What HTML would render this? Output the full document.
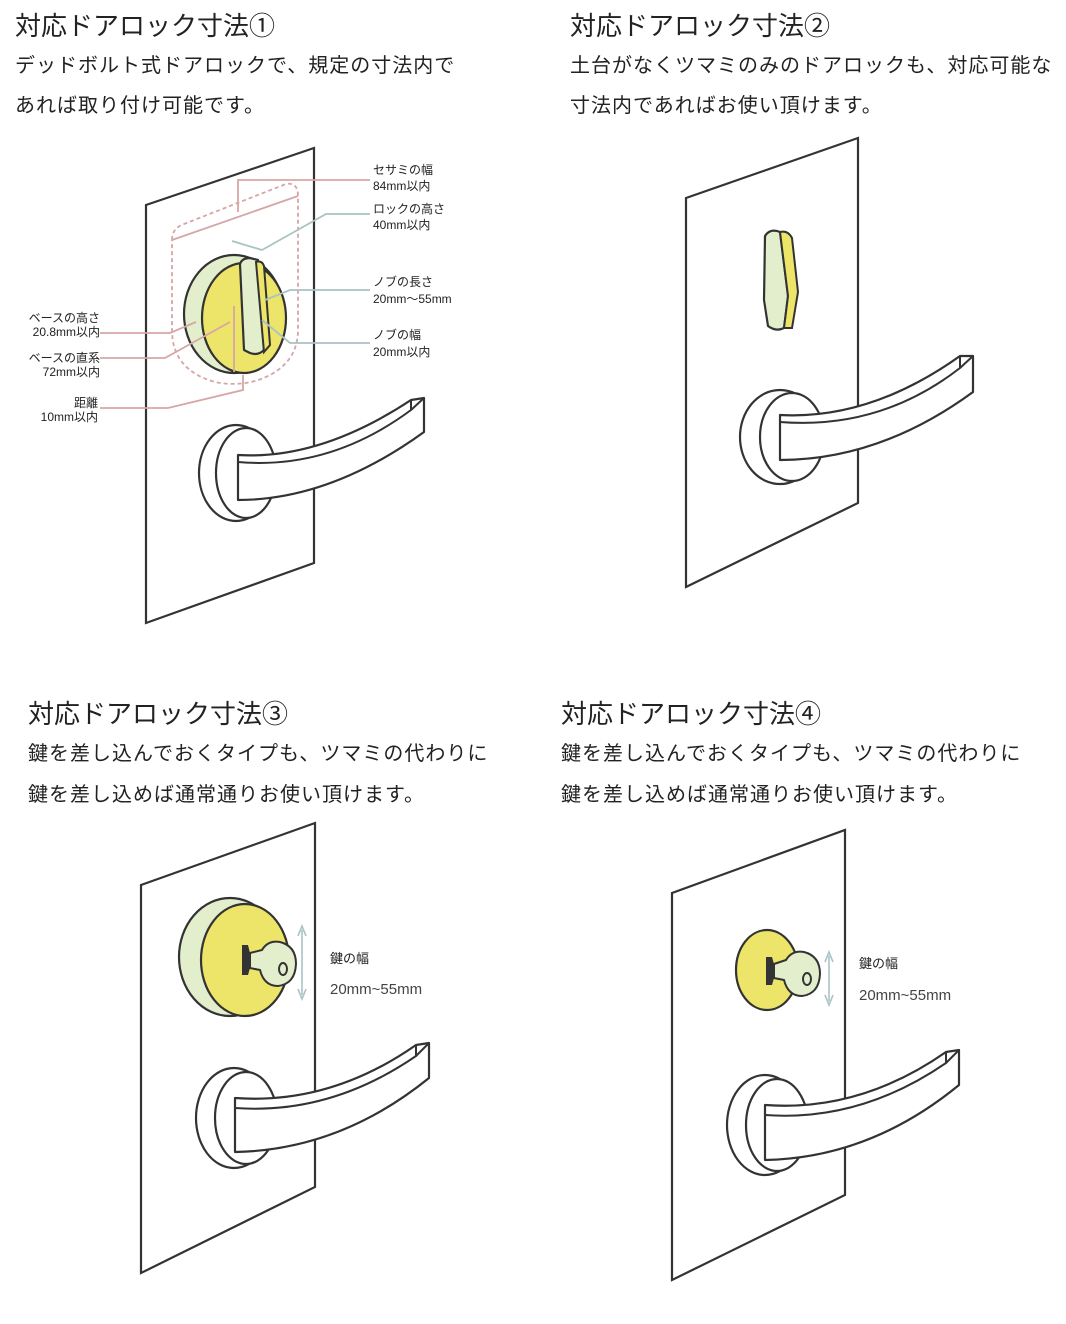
<!DOCTYPE html>
<html><head><meta charset="utf-8"><style>
body{margin:0;background:#fff;}
svg{display:block;font-family:"Liberation Sans","Noto Sans CJK JP",sans-serif;}
.t{font-size:26px;fill:#222;}
.b{font-size:20px;fill:#222;letter-spacing:1px;}
.s{font-size:12px;fill:#222;}
.k{font-size:15px;fill:#444;}
.d{fill:#fff;stroke:#333;stroke-width:2.2;}
.l{fill:#fff;stroke:#333;stroke-width:2.2;stroke-linejoin:round;}
.pk{stroke:#d6a6a6;stroke-width:1.8;fill:none;}
.bl{stroke:#a9c3c3;stroke-width:1.8;fill:none;}
</style></head><body>
<svg width="1066" height="1324" viewBox="0 0 1066 1324">
<text class="t" x="15" y="35">対応ドアロック寸法①</text>
<text class="b" x="15" y="72">デッドボルト式ドアロックで、規定の寸法内で</text>
<text class="b" x="15" y="112">あれば取り付け可能です。</text>
<text class="t" x="570" y="35">対応ドアロック寸法②</text>
<text class="b" x="570" y="72">土台がなくツマミのみのドアロックも、対応可能な</text>
<text class="b" x="570" y="112">寸法内であればお使い頂けます。</text>
<text class="t" x="28" y="723">対応ドアロック寸法③</text>
<text class="b" x="28" y="760">鍵を差し込んでおくタイプも、ツマミの代わりに</text>
<text class="b" x="28" y="801">鍵を差し込めば通常通りお使い頂けます。</text>
<text class="t" x="561" y="723">対応ドアロック寸法④</text>
<text class="b" x="561" y="760">鍵を差し込んでおくタイプも、ツマミの代わりに</text>
<text class="b" x="561" y="801">鍵を差し込めば通常通りお使い頂けます。</text>

<!-- Panel 1 -->
<polygon class="d" points="146,205 314,148 314,563 146,623"/>
<path d="M172,240 Q172,228 184,224 L286,184 Q298,182 298,196 L298,330 Q298,360 270,375 Q245,388 215,382 Q172,370 172,330 Z" fill="none" stroke="#d6a6a6" stroke-width="1.8" stroke-dasharray="4,3"/>
<path class="pk" d="M172,240 L298,196 M238,212 L238,180 L370,180"/>
<path class="bl" d="M232,241 L262,250 M262,250 L326,214 L370,214"/>
<ellipse cx="234" cy="314" rx="50" ry="59" fill="#e3efcc" stroke="#333" stroke-width="2.2"/>
<ellipse cx="244" cy="318" rx="42" ry="55" fill="#ede46a" stroke="#333" stroke-width="2.2"/>
<path d="M240,264 Q242,258 250,258 L258,260 L264,350 Q258,356 250,353 L244,350 Z" fill="#e3efcc" stroke="#333" stroke-width="2.2" stroke-linejoin="round"/>
<path d="M256,262 Q262,260 264,266 L270,345 L264,352 Z" fill="#ede46a" stroke="#333" stroke-width="2"/>
<path class="pk" d="M234,306 L234,372 M243,375 L243,390 L168,408 L100,408 M230,322 L165,358 L100,358 M196,322 L170,333 L100,333"/>
<path class="bl" d="M265,300 L290,290 L370,290 M262,320 L290,343 L370,343"/>
<text class="s" x="373" y="174">セサミの幅</text><text class="s" x="373" y="190">84mm以内</text>
<text class="s" x="373" y="213">ロックの高さ</text><text class="s" x="373" y="229">40mm以内</text>
<text class="s" x="373" y="286">ノブの長さ</text><text class="s" x="373" y="303">20mm～55mm</text>
<text class="s" x="373" y="339">ノブの幅</text><text class="s" x="373" y="356">20mm以内</text>
<text class="s" x="100" y="322" text-anchor="end">ベースの高さ</text><text class="s" x="100" y="336" text-anchor="end">20.8mm以内</text>
<text class="s" x="100" y="362" text-anchor="end">ベースの直系</text><text class="s" x="100" y="376" text-anchor="end">72mm以内</text>
<text class="s" x="98" y="407" text-anchor="end">距離</text><text class="s" x="98" y="421" text-anchor="end">10mm以内</text>
<ellipse class="l" cx="236" cy="473" rx="37" ry="48"/>
<ellipse class="l" cx="246" cy="473" rx="30" ry="45"/>
<path class="l" d="M238,455 Q320,460 411,400 L424,398 L424,432 Q330,500 238,500 Z"/>
<path d="M411,400 L411,410 Q330,470 238,462 L238,455 M411,410 L424,398" stroke="#333" stroke-width="2" fill="none"/>

<!-- Panel 2 -->
<polygon class="d" points="686,198 858,138 858,503 686,587"/>
<path d="M765,236 Q770,228 780,232 L788,296 L784,328 Q776,332 768,326 L764,300 Z" fill="#e3efcc" stroke="#333" stroke-width="2.2" stroke-linejoin="round"/>
<path d="M780,232 Q788,230 792,238 L798,292 L792,328 L784,328 L788,296 Z" fill="#ede46a" stroke="#333" stroke-width="2"/>
<ellipse class="l" cx="780" cy="437" rx="40" ry="47"/>
<ellipse class="l" cx="792" cy="437" rx="32" ry="44"/>
<path class="l" d="M780,415 Q870,420 960,356 L973,356 L973,392 Q880,460 780,460 Z"/>
<path d="M960,356 L960,368 Q880,430 780,422 M960,368 L973,356" stroke="#333" stroke-width="2" fill="none"/>

<!-- Panel 3 -->
<polygon class="d" points="141,885 315,823 315,1187 141,1273"/>
<ellipse cx="230" cy="957" rx="51" ry="59" fill="#e3efcc" stroke="#333" stroke-width="2.2"/>
<ellipse cx="245" cy="960" rx="44" ry="56" fill="#ede46a" stroke="#333" stroke-width="2.2"/>
<path d="M242,945 L248,945 L250,953 L262,953 L262,968 L250,968 L248,975 L242,975 Z" fill="#333"/>
<path d="M250,953 L262,950 Q268,940 280,942 Q296,946 296,964 Q295,984 278,986 Q264,986 260,970 L250,968 Z" fill="#e3efcc" stroke="#333" stroke-width="2"/>
<ellipse cx="283" cy="969" rx="4" ry="6" fill="none" stroke="#333" stroke-width="2"/>
<path d="M302,930 L302,995 M298,936 L302,926 L306,936 M298,989 L302,999 L306,989" stroke="#a9c3c3" stroke-width="1.6" fill="none"/>
<text class="s" x="330" y="963" style="font-size:13px">鍵の幅</text>
<text class="k" x="330" y="994">20mm~55mm</text>
<ellipse class="l" cx="234" cy="1118" rx="38" ry="50"/>
<ellipse class="l" cx="246" cy="1118" rx="31" ry="46"/>
<path class="l" d="M235,1098 Q330,1105 416,1045 L429,1043 L429,1078 Q340,1150 235,1152 Z"/>
<path d="M416,1045 L416,1056 Q330,1115 235,1108 M416,1056 L429,1043" stroke="#333" stroke-width="2" fill="none"/>

<!-- Panel 4 -->
<polygon class="d" points="672,893 845,830 845,1195 672,1280"/>
<ellipse cx="767" cy="970" rx="31" ry="40" fill="#ede46a" stroke="#333" stroke-width="2.2"/>
<path d="M766,957 L772,957 L774,964 L784,964 L784,978 L774,978 L772,985 L766,985 Z" fill="#333"/>
<path d="M774,964 L786,960 Q792,950 804,952 Q820,956 820,974 Q819,994 802,996 Q788,996 784,980 L774,978 Z" fill="#e3efcc" stroke="#333" stroke-width="2"/>
<ellipse cx="807" cy="979" rx="4" ry="6" fill="none" stroke="#333" stroke-width="2"/>
<path d="M829,956 L829,1001 M825,962 L829,952 L833,962 M825,995 L829,1005 L833,995" stroke="#a9c3c3" stroke-width="1.6" fill="none"/>
<text class="s" x="859" y="968" style="font-size:13px">鍵の幅</text>
<text class="k" x="859" y="1000">20mm~55mm</text>
<ellipse class="l" cx="765" cy="1125" rx="38" ry="50"/>
<ellipse class="l" cx="777" cy="1125" rx="31" ry="46"/>
<path class="l" d="M765,1105 Q860,1112 946,1052 L959,1050 L959,1085 Q870,1158 765,1160 Z"/>
<path d="M946,1052 L946,1063 Q860,1122 765,1115 M946,1063 L959,1050" stroke="#333" stroke-width="2" fill="none"/>
</svg>
</body></html>
